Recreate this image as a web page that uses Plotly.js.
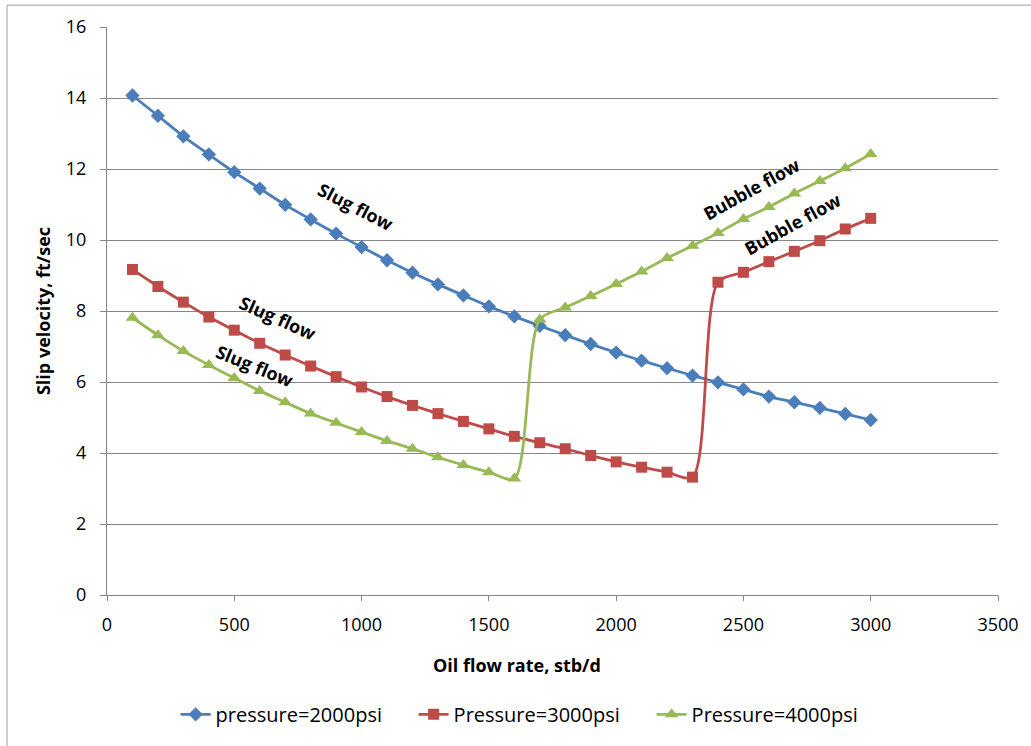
<!DOCTYPE html>
<html>
<head>
<meta charset="utf-8">
<script src="https://cdn.plot.ly/plotly-3.0.1.min.js"></script>
<style>
  html, body { margin: 0; padding: 0; background: #fff; }
  #chart { width: 1031px; height: 746px; }
</style>
</head>
<body>
<div id="chart"></div>
<script>
// Oil flow rate, stb/d
const oilRate = [100, 200, 300, 400, 500, 600, 700, 800, 900, 1000,
                 1100, 1200, 1300, 1400, 1500, 1600, 1700, 1800, 1900, 2000,
                 2100, 2200, 2300, 2400, 2500, 2600, 2700, 2800, 2900, 3000];

// Slip velocity, ft/sec, for each pressure
const slip2000 = [14.07, 13.50, 12.92, 12.41, 11.91, 11.45, 10.99, 10.58, 10.18, 9.80,
                  9.43, 9.08, 8.75, 8.44, 8.13, 7.85, 7.58, 7.32, 7.07, 6.83,
                  6.60, 6.39, 6.18, 5.99, 5.79, 5.59, 5.43, 5.27, 5.10, 4.93];
const slip3000 = [9.17, 8.69, 8.25, 7.83, 7.46, 7.09, 6.76, 6.45, 6.15, 5.86,
                  5.59, 5.34, 5.11, 4.89, 4.68, 4.47, 4.29, 4.12, 3.93, 3.75,
                  3.60, 3.46, 3.32, 8.81, 9.09, 9.39, 9.68, 9.98, 10.31, 10.61];
const slip4000 = [7.81, 7.32, 6.87, 6.48, 6.11, 5.75, 5.43, 5.11, 4.85, 4.59,
                  4.34, 4.12, 3.88, 3.66, 3.46, 3.28, 7.76, 8.10, 8.42, 8.76,
                  9.11, 9.49, 9.84, 10.20, 10.59, 10.93, 11.31, 11.66, 12.02, 12.42];

const seriesNames = ['pressure=2000psi', 'Pressure=3000psi', 'Pressure=4000psi'];

// Flow regime labels
const regimeText  = ['Slug flow', 'Slug flow', 'Slug flow', 'Bubble flow', 'Bubble flow'];
const regimeX     = [980, 672, 582, 2531, 2692];
const regimeY     = [10.94, 7.80, 6.45, 11.44, 10.46];
const regimeAngle = [27, 24, 22, -29, -29];

const FONT = 'Open Sans, Liberation Sans, sans-serif';
const colors = ['#4A7EBB', '#BE4B48', '#98B954'];
const symbols = ['diamond', 'square', 'triangle-up'];
const sizes = [11, 11, 12];
const ys = [slip2000, slip3000, slip4000];

const traces = ys.map((y, i) => ({
  type: 'scatter',
  mode: 'lines+markers',
  name: seriesNames[i],
  x: oilRate,
  y: y,
  line: { color: colors[i], width: 2.8, shape: 'spline', smoothing: 0.8 },
  marker: { color: colors[i], symbol: symbols[i], size: sizes[i], line: { width: 0 } },
  cliponaxis: false
}));

const annotations = regimeText.map((t, i) => ({
  x: regimeX[i], y: regimeY[i], xref: 'x', yref: 'y',
  text: '<b>' + t + '</b>',
  textangle: regimeAngle[i],
  showarrow: false,
  font: { family: FONT, size: 18, color: '#000' }
}));

// x-axis title sits centred under the chart area
annotations.push({
  xref: 'paper', yref: 'paper', x: 0.46, y: -0.1226,
  xanchor: 'center', yanchor: 'middle',
  text: '<b>Oil flow rate, stb/d</b>',
  showarrow: false,
  font: { family: FONT, size: 18, color: '#000' }
});

const layout = {
  width: 1031,
  height: 746,
  margin: { l: 107, r: 33, t: 27, b: 148 },
  paper_bgcolor: '#fff',
  plot_bgcolor: '#fff',
  font: { family: FONT, size: 18, color: '#000' },
  showlegend: true,
  legend: {
    orientation: 'h',
    x: 0.077, xanchor: 'left',
    y: -0.21, yanchor: 'middle',
    font: { family: FONT, size: 20, color: '#000' },
    entrywidth: 193,
    entrywidthmode: 'pixels',
    itemwidth: 30,
    tracegroupgap: 0
  },
  xaxis: {
    range: [0, 3500],
    dtick: 500,
    tick0: 0,
    showgrid: false,
    zeroline: false,
    showline: true,
    linecolor: '#868686',
    linewidth: 1,
    ticks: 'outside',
    ticklen: 5,
    tickcolor: '#868686',
    ticklabelstandoff: 8,
    tickfont: { family: FONT, size: 18, color: '#000' }
  },
  yaxis: {
    range: [0, 16],
    dtick: 2,
    tick0: 0,
    showgrid: true,
    gridcolor: '#868686',
    gridwidth: 1,
    zeroline: false,
    showline: true,
    linecolor: '#868686',
    linewidth: 1,
    ticks: 'outside',
    ticklen: 6,
    tickcolor: '#868686',
    ticklabelstandoff: 10,
    tickfont: { family: FONT, size: 18, color: '#000' },
    title: { text: '<b>Slip velocity, ft/sec</b>', font: { family: FONT, size: 18, color: '#000' }, standoff: 10 }
  },
  annotations: annotations,
  shapes: [{
    type: 'rect', xref: 'paper', yref: 'paper',
    x0: -0.1122, x1: 1.05, y0: -0.3, y1: 1.0385,
    line: { color: '#9a9a9a', width: 1 },
    fillcolor: 'rgba(0,0,0,0)',
    layer: 'below'
  }]
};

Plotly.newPlot('chart', traces, layout, { displayModeBar: false, staticPlot: true });
</script>
</body>
</html>
